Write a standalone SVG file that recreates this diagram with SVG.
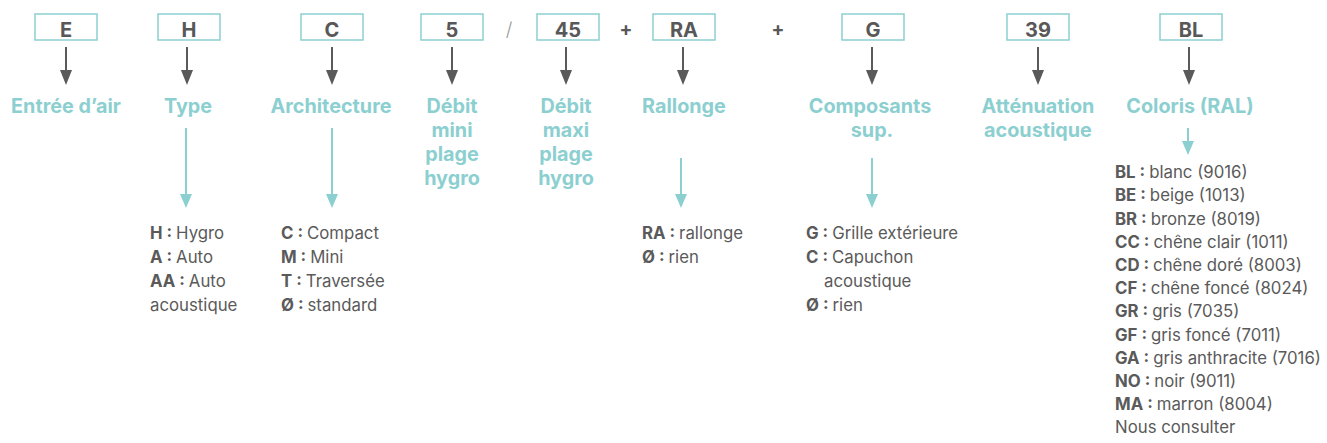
<svg xmlns="http://www.w3.org/2000/svg" width="1327" height="443" viewBox="0 0 1327 443">
<defs>
<style>
.box{fill:#fff;stroke:#8ccfd0;stroke-width:1.5}
.code{font-family:Inter,"Liberation Sans",sans-serif;font-weight:700;font-size:20px;fill:#585858;text-anchor:middle}
.sym{font-family:Inter,"Liberation Sans",sans-serif;font-size:19px;text-anchor:middle}
.lbl{font-family:Inter,"Liberation Sans",sans-serif;font-weight:700;font-size:19.8px;fill:#8ccfd0;text-anchor:middle}
.lst{font-family:Inter,"Liberation Sans",sans-serif;font-weight:400;font-size:16.8px;fill:#5a5a5a}
.lst tspan.b{font-weight:700}
.dk{stroke:#5a5a5a;stroke-width:2;fill:none}
.tl{stroke:#8ccfd0;stroke-width:2;fill:none}
</style>
</defs>
<g id="connectors">
<path class="dk" d="M66,47 V70"/><path d="M60,70 L72,70 L66,85 Z" fill="#5a5a5a"/>
<path class="dk" d="M187,47 V70"/><path d="M181,70 L193,70 L187,85 Z" fill="#5a5a5a"/>
<path class="dk" d="M332,47 V70"/><path d="M326,70 L338,70 L332,85 Z" fill="#5a5a5a"/>
<path class="dk" d="M452,47 V70"/><path d="M446,70 L458,70 L452,85 Z" fill="#5a5a5a"/>
<path class="dk" d="M566,47 V70"/><path d="M560,70 L572,70 L566,85 Z" fill="#5a5a5a"/>
<path class="dk" d="M683,47 V70"/><path d="M677,70 L689,70 L683,85 Z" fill="#5a5a5a"/>
<path class="dk" d="M872,47 V70"/><path d="M866,70 L878,70 L872,85 Z" fill="#5a5a5a"/>
<path class="dk" d="M1038,47 V70"/><path d="M1032,70 L1044,70 L1038,85 Z" fill="#5a5a5a"/>
<path class="dk" d="M1189,47 V70"/><path d="M1183,70 L1195,70 L1189,85 Z" fill="#5a5a5a"/>
<path class="tl" d="M186,128 V195"/><path d="M180,194 L192,194 L186,208 Z" fill="#8ccfd0"/>
<path class="tl" d="M332,128 V195"/><path d="M326,194 L338,194 L332,208 Z" fill="#8ccfd0"/>
<path class="tl" d="M681,158 V195"/><path d="M675,194 L687,194 L681,208 Z" fill="#8ccfd0"/>
<path class="tl" d="M872,158 V195"/><path d="M866,194 L878,194 L872,208 Z" fill="#8ccfd0"/>
<path class="tl" d="M1188,128 V142"/><path d="M1182,141 L1194,141 L1188,155 Z" fill="#8ccfd0"/>
</g>
<g id="symbols">
<text class="sym" x="509" y="36" fill="#9a9a9a" font-weight="300">/</text>
<text class="sym" x="626" y="36" fill="#585858" font-weight="700">+</text>
<text class="sym" x="778" y="36" fill="#585858" font-weight="700">+</text>
</g>
<g id="node-E">
<rect class="box" x="35" y="14" width="62" height="26"/>
<text class="code" x="66" y="36.5">E</text>
<text class="lbl" x="66" y="113">Entrée d’air</text>
</g>
<g id="node-H">
<rect class="box" x="158" y="14" width="62" height="26"/>
<text class="code" x="189" y="36.5">H</text>
<text class="lbl" x="188" y="113">Type</text>
<text class="lst" x="150" y="239"><tspan class="b">H : </tspan>Hygro</text>
<text class="lst" x="150" y="263"><tspan class="b">A : </tspan>Auto</text>
<text class="lst" x="150" y="287"><tspan class="b">AA : </tspan>Auto</text>
<text class="lst" x="150" y="311">acoustique</text>
</g>
<g id="node-C">
<rect class="box" x="301" y="14" width="62" height="26"/>
<text class="code" x="332" y="36.5">C</text>
<text class="lbl" x="331" y="113">Architecture</text>
<text class="lst" x="281" y="239"><tspan class="b">C : </tspan>Compact</text>
<text class="lst" x="281" y="263"><tspan class="b">M : </tspan>Mini</text>
<text class="lst" x="281" y="287"><tspan class="b">T : </tspan>Traversée</text>
<text class="lst" x="281" y="311"><tspan class="b">Ø : </tspan>standard</text>
</g>
<g id="node-5">
<rect class="box" x="421" y="14" width="62" height="26"/>
<text class="code" x="452" y="36.5">5</text>
<text class="lbl" x="452" y="113">Débit</text>
<text class="lbl" x="452" y="137">mini</text>
<text class="lbl" x="452" y="161">plage</text>
<text class="lbl" x="452" y="185">hygro</text>
</g>
<g id="node-45">
<rect class="box" x="537" y="14" width="62" height="26"/>
<text class="code" x="568" y="36.5">45</text>
<text class="lbl" x="566" y="113">Débit</text>
<text class="lbl" x="566" y="137">maxi</text>
<text class="lbl" x="566" y="161">plage</text>
<text class="lbl" x="566" y="185">hygro</text>
</g>
<g id="node-RA">
<rect class="box" x="653" y="14" width="62" height="26"/>
<text class="code" x="684" y="36.5">RA</text>
<text class="lbl" x="684" y="113">Rallonge</text>
<text class="lst" x="642" y="239"><tspan class="b">RA : </tspan>rallonge</text>
<text class="lst" x="642" y="263"><tspan class="b">Ø : </tspan>rien</text>
</g>
<g id="node-G">
<rect class="box" x="842" y="14" width="62" height="26"/>
<text class="code" x="873" y="36.5">G</text>
<text class="lbl" x="870" y="113">Composants</text>
<text class="lbl" x="872" y="137">sup.</text>
<text class="lst" x="806" y="239"><tspan class="b">G : </tspan>Grille extérieure</text>
<text class="lst" x="806" y="263"><tspan class="b">C : </tspan>Capuchon</text>
<text class="lst" x="824" y="287">acoustique</text>
<text class="lst" x="806" y="311"><tspan class="b">Ø : </tspan>rien</text>
</g>
<g id="node-39">
<rect class="box" x="1007" y="14" width="62" height="26"/>
<text class="code" x="1038" y="36.5">39</text>
<text class="lbl" x="1038" y="113">Atténuation</text>
<text class="lbl" x="1038" y="137">acoustique</text>
</g>
<g id="node-BL">
<rect class="box" x="1160" y="14" width="62" height="26"/>
<text class="code" x="1191" y="36.5">BL</text>
<text class="lbl" x="1190" y="113">Coloris (RAL)</text>
<text class="lst" x="1115" y="178"><tspan class="b">BL : </tspan>blanc (9016)</text>
<text class="lst" x="1115" y="201"><tspan class="b">BE : </tspan>beige (1013)</text>
<text class="lst" x="1115" y="224.5"><tspan class="b">BR : </tspan>bronze (8019)</text>
<text class="lst" x="1115" y="247.5"><tspan class="b">CC : </tspan>chêne clair (1011)</text>
<text class="lst" x="1115" y="271"><tspan class="b">CD : </tspan>chêne doré (8003)</text>
<text class="lst" x="1115" y="294"><tspan class="b">CF : </tspan>chêne foncé (8024)</text>
<text class="lst" x="1115" y="317"><tspan class="b">GR : </tspan>gris (7035)</text>
<text class="lst" x="1115" y="340.5"><tspan class="b">GF : </tspan>gris foncé (7011)</text>
<text class="lst" x="1115" y="363.5"><tspan class="b">GA : </tspan>gris anthracite (7016)</text>
<text class="lst" x="1115" y="387"><tspan class="b">NO : </tspan>noir (9011)</text>
<text class="lst" x="1115" y="410"><tspan class="b">MA : </tspan>marron (8004)</text>
<text class="lst" x="1115" y="433">Nous consulter</text>
</g>
</svg>
